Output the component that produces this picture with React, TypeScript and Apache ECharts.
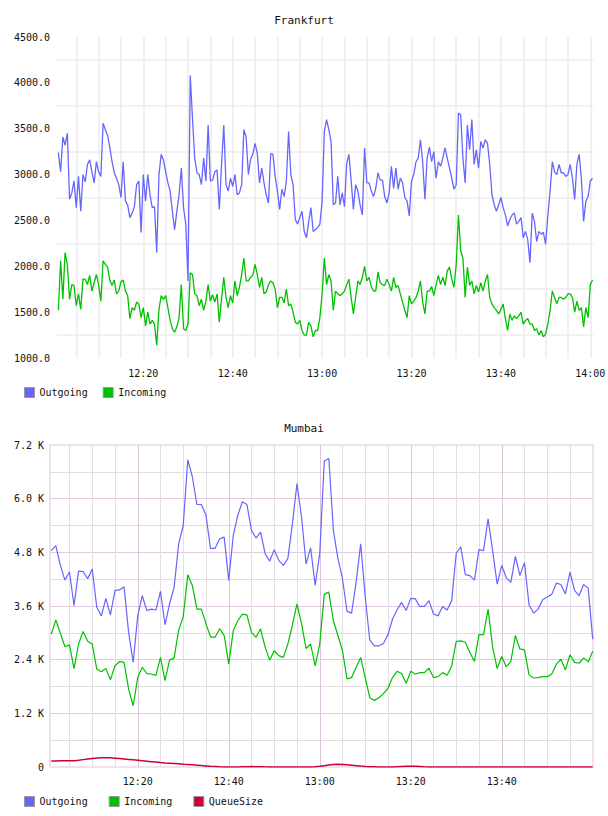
import { useEffect, useRef } from 'react';
import * as echarts from 'echarts';

const FONT = '"DejaVu Sans Mono", monospace';
const BLUE = '#6666ff';
const GREEN = '#00c000';
const RED = '#cc0033';
const TEXT = '#111111';

// Frankfurt: one sample every 30 s, first one at 12:01:00 (minutes after 12:00)
const frankfurtStartMin = 1;
const frankfurtStepMin = 0.5;

const frankfurtOutgoing = [
  3240, 3030, 3410, 3320, 3450, 2730, 2800, 2930, 2640, 2980,
  2600, 3000, 2920, 3110, 3160, 3030, 2910, 3140, 3030, 2980,
  3560, 3490, 3430, 3300, 3140, 3020, 2960, 2890, 2750, 3140,
  2710, 2670, 2530, 2580, 2650, 2890, 2930, 2370, 3000, 2710,
  3000, 2780, 2640, 2650, 2150, 3000, 3220, 3160, 3030, 2910,
  2820, 2600, 2400, 2600, 2780, 3070, 2640, 2460, 1840, 4080,
  3610, 3180, 3020, 3000, 2890, 3180, 2930, 3540, 2930, 2940,
  3030, 3050, 2620, 3110, 3540, 2890, 2820, 2960, 2870, 3000,
  2780, 2800, 2890, 3490, 3410, 3000, 3170, 3220, 3340, 3230,
  2910, 3070, 2910, 2780, 2690, 3230, 3220, 2980, 2820, 2620,
  2840, 2760, 2930, 3470, 3000, 2890, 2510, 2460, 2530, 2600,
  2380, 2310, 2490, 2640, 2380, 2400, 2420, 2460, 2710, 3470,
  3600, 3490, 3360, 2670, 2690, 2980, 2670, 2800, 2650, 3120,
  3220, 2930, 2620, 2890, 2820, 2670, 2560, 3290, 2910, 2910,
  2820, 2760, 2850, 3020, 2940, 2940, 2760, 2690, 2800, 3090,
  2850, 3070, 2840, 2960, 2910, 2750, 2710, 2550, 2930, 3000,
  3140, 3180, 3380, 3140, 2730, 3180, 3300, 3140, 3250, 2960,
  3140, 3090, 3180, 3290, 3180, 3070, 2960, 2840, 2890, 3670,
  3650, 3180, 2910, 3540, 3270, 3600, 3110, 3270, 3070, 3360,
  3290, 3380, 3340, 3110, 2780, 2670, 2600, 2670, 2750, 2640,
  2560, 2440, 2510, 2560, 2580, 2460, 2490, 2530, 2310, 2380,
  2290, 2040, 2580, 2490, 2270, 2380, 2350, 2370, 2240, 2550,
  2820, 3140, 3030, 3000, 3110, 3020, 3020, 2980, 3000, 3110,
  2960, 2730, 3110, 3220, 2960, 2490, 2710, 2760, 2930, 2960,
];

const frankfurtIncoming = [
  1520, 2060, 1640, 2150, 2020, 1640, 1800, 1790, 1570, 1700,
  1530, 1860, 1860, 1800, 1900, 1730, 1820, 1910, 1800, 1620,
  2060, 2020, 1990, 1850, 1790, 1850, 1700, 1730, 1830, 1850,
  1730, 1680, 1430, 1550, 1520, 1610, 1590, 1440, 1550, 1350,
  1500, 1370, 1410, 1370, 1140, 1530, 1680, 1640, 1680, 1550,
  1410, 1320, 1280, 1340, 1440, 1800, 1320, 1300, 1370, 1930,
  1910, 1700, 1680, 1570, 1640, 1520, 1620, 1800, 1620, 1690,
  1610, 1700, 1390, 1640, 1880, 1660, 1550, 1680, 1600, 1840,
  1680, 1770, 1910, 2090, 1840, 1840, 1880, 1900, 2020, 1910,
  1770, 1880, 1700, 1720, 1800, 1840, 1820, 1750, 1550, 1660,
  1660, 1600, 1750, 1570, 1590, 1500, 1390, 1370, 1410, 1300,
  1250, 1250, 1390, 1350, 1230, 1300, 1300, 1440, 1700, 2090,
  1800, 1910, 1840, 1520, 1730, 1700, 1680, 1700, 1730, 1800,
  1860, 1660, 1480, 1660, 1840, 1800, 1880, 2000, 1840, 1880,
  1780, 1730, 1730, 1940, 1820, 1800, 1790, 1860, 1800, 1730,
  1880, 1770, 1790, 1700, 1610, 1520, 1440, 1680, 1590, 1620,
  1660, 1730, 1840, 1610, 1480, 1730, 1730, 1780, 1680, 1800,
  1900, 1800, 1880, 1790, 1950, 1990, 1860, 1770, 2020, 2560,
  2170, 2090, 1660, 1990, 1790, 1840, 1700, 1790, 1720, 1820,
  1730, 1840, 1910, 1660, 1590, 1550, 1520, 1480, 1530, 1590,
  1430, 1300, 1480, 1410, 1460, 1430, 1460, 1500, 1370, 1410,
  1430, 1370, 1370, 1300, 1320, 1250, 1300, 1230, 1260, 1370,
  1520, 1730, 1660, 1590, 1660, 1660, 1640, 1660, 1700, 1700,
  1660, 1500, 1620, 1520, 1550, 1340, 1550, 1440, 1800, 1850,
];

// Mumbai: one sample per minute, 12:01 .. 14:00
const mumbaiStartMin = 1;
const mumbaiStepMin = 1;

const mumbaiOutgoing = [
  4840, 4950, 4510, 4180, 4360, 3610, 4380, 4370, 4210, 4430,
  3570, 3380, 3770, 3400, 3950, 3960, 4030, 3010, 2340, 3380,
  3830, 3500, 3530, 3510, 3930, 3180, 3650, 4020, 4990, 5400,
  6870, 6490, 5870, 5870, 5630, 4890, 4890, 5100, 5140, 4170,
  5180, 5630, 5930, 5870, 5290, 5120, 5250, 4770, 4600, 4860,
  4620, 4510, 4660, 5440, 6340, 5590, 4540, 4900, 4060, 4770,
  6840, 6900, 5290, 4660, 4210, 3480, 3440, 4130, 4990, 3800,
  2840, 2710, 2710, 2760, 2960, 3310, 3510, 3680, 3500, 3770,
  3760, 3590, 3590, 3720, 3420, 3380, 3590, 3510, 3720, 4780,
  4920, 4300, 4280, 4180, 4860, 4840, 5550, 4840, 4090, 4510,
  4230, 4130, 4710, 4280, 4570, 3630, 3440, 3530, 3740, 3800,
  3860, 4110, 4080, 3870, 4360, 3950, 3830, 4080, 4000, 2860,
];

const mumbaiIncoming = [
  2970, 3290, 2990, 2690, 2730, 2200, 2750, 3030, 2810, 2750,
  2190, 2130, 2200, 1950, 2260, 2360, 2340, 1740, 1370, 2000,
  2230, 2090, 2080, 2050, 2450, 1930, 2390, 2440, 3060, 3360,
  4300, 4060, 3530, 3530, 3200, 2910, 2900, 3090, 2940, 2300,
  3050, 3270, 3420, 3400, 3010, 2900, 3090, 2680, 2390, 2600,
  2490, 2450, 2750, 3180, 3650, 3200, 2650, 2750, 2260, 2750,
  3860, 3910, 3270, 2940, 2600, 1970, 2000, 2230, 2450, 2000,
  1550, 1490, 1550, 1640, 1760, 2000, 2140, 2090, 1870, 2140,
  2080, 2110, 2110, 2210, 2000, 2020, 2110, 2050, 2260, 2810,
  2820, 2790, 2560, 2360, 2960, 2960, 3530, 2680, 2200, 2470,
  2240, 2360, 2940, 2640, 2620, 2060, 1990, 2000, 2020, 2020,
  2080, 2300, 2410, 2170, 2510, 2340, 2320, 2440, 2350, 2590,
];

const mumbaiQueueSize = [
  135, 135, 138, 140, 140, 142, 150, 165, 180, 190,
  200, 205, 208, 205, 198, 190, 180, 170, 160, 150,
  140, 130, 120, 110, 100, 92, 85, 78, 70, 62,
  55, 48, 40, 32, 25, 18, 12, 6, 2, 0,
  0, 2, 5, 8, 10, 8, 5, 3, 2, 0,
  0, 0, 0, 0, 0, 0, 0, 0, 5, 15,
  30, 45, 55, 60, 58, 50, 40, 30, 20, 12,
  6, 3, 0, 0, 0, 0, 5, 10, 15, 18,
  15, 10, 5, 2, 0, 0, 0, 0, 0, 0,
  0, 0, 0, 0, 0, 0, 0, 0, 0, 0,
  0, 0, 0, 0, 0, 0, 0, 0, 0, 0,
  0, 0, 0, 0, 0, 0, 0, 0, 0, 0,
];

const frankfurtSeriesNames = ['Outgoing', 'Incoming'];
const mumbaiSeriesNames = ['Outgoing', 'Incoming', 'QueueSize'];

const toPoints = (values: number[], start: number, step: number) =>
  values.map((v, i) => [start + i * step, v]);

// minutes after 12:00 -> "HH:MM"
const clock = (min: number) => {
  const total = Math.round(min);
  const h = 12 + Math.floor(total / 60);
  const m = total % 60;
  return `${h}:${String(m).padStart(2, '0')}`;
};

const labelText = { fontFamily: FONT, fontSize: 10, color: TEXT };

function timeAxis(gridIndex: number, lastLabel: number, major: string, minor: string, width: number, margin: number) {
  return {
    gridIndex,
    type: 'value',
    min: 0,
    max: 120,
    interval: 20,
    axisLine: { show: false },
    axisTick: { show: false },
    axisLabel: {
      ...labelText,
      margin,
      showMinLabel: true,
      showMaxLabel: true,
      formatter: (v: number) => (v > 0 && v <= lastLabel ? clock(v) : ''),
    },
    splitLine: { show: true, showMinLine: false, showMaxLine: lastLabel >= 120, lineStyle: { color: major, width } },
    minorTick: { show: false, splitNumber: 4 },
    minorSplitLine: { show: true, lineStyle: { color: minor, width } },
  };
}

export default function App() {
  const ref = useRef<HTMLDivElement>(null);

  useEffect(() => {
    if (!ref.current) return;
    const chart = echarts.init(ref.current, undefined, { renderer: 'svg' });

    const lineSeries = (name: string, data: number[][], axis: number, color: string, width: number) => ({
      type: 'line',
      name,
      xAxisIndex: axis,
      yAxisIndex: axis,
      data,
      symbol: 'none',
      showSymbol: false,
      lineStyle: { color, width },
      itemStyle: { color },
      emphasis: { disabled: true },
    });

    const legendBase = {
      left: 24,
      padding: 0,
      orient: 'horizontal',
      icon: 'rect',
      itemWidth: 10,
      itemHeight: 10,
      selectedMode: false,
      itemStyle: { borderColor: '#999999', borderWidth: 1 },
      textStyle: { ...labelText },
    };

    const titleText = { fontFamily: FONT, fontSize: 11, fontWeight: 'normal', color: TEXT };

    chart.setOption({
      animation: false,
      backgroundColor: '#ffffff',
      title: [
        { text: 'Frankfurt', left: 'center', top: 15, padding: 0, textStyle: titleText },
        { text: 'Mumbai', left: 'center', top: 423, padding: 0, textStyle: titleText },
      ],
      legend: [
        { ...legendBase, data: frankfurtSeriesNames, top: 387, itemGap: 15 },
        { ...legendBase, data: mumbaiSeriesNames, top: 796, itemGap: 21 },
      ],
      grid: [
        { left: 57, right: 14.7, top: 37, height: 321, outerBoundsMode: 'none' },
        { left: 53.9, right: 17.7, top: 37, height: 321, outerBoundsMode: 'none' },
        {
          left: 50, right: 15, top: 445, height: 322, outerBoundsMode: 'none',
          show: true, borderColor: '#eee2ee', borderWidth: 2, backgroundColor: 'transparent',
        },
        { left: 46.75, right: 15.25, top: 445, height: 322, outerBoundsMode: 'none' },
      ],
      xAxis: [
        { gridIndex: 0, type: 'value', min: 0.69, max: 120.67, show: false },
        timeAxis(1, 120, '#ebebeb', '#ebebeb', 1.5, 10),
        { gridIndex: 2, type: 'value', min: 0.72, max: 120.06, show: false },
        timeAxis(3, 100, '#dcc4dc', '#e2e0e2', 1, 9),
      ],
      yAxis: [
        {
          gridIndex: 0,
          type: 'value',
          min: 1000,
          max: 4500,
          interval: 500,
          axisLine: { show: false },
          axisTick: { show: false },
          axisLabel: { ...labelText, margin: 7, formatter: (v: number) => v.toFixed(1) },
          splitLine: { show: false },
          minorTick: { show: false, splitNumber: 2 },
          minorSplitLine: { show: true, lineStyle: { color: '#f1f1f1', width: 2 } },
        },
        { gridIndex: 1, type: 'value', min: 1000, max: 4500, show: false },
        {
          gridIndex: 2,
          type: 'value',
          min: 0,
          max: 7200,
          interval: 1200,
          axisLine: { show: false },
          axisTick: { show: false },
          axisLabel: {
            ...labelText,
            margin: 6,
            formatter: (v: number) => (v === 0 ? '0' : `${(v / 1000).toFixed(1)} K`),
          },
          splitLine: { show: true, showMinLine: false, showMaxLine: false, lineStyle: { color: '#e2cae2', width: 1 } },
          minorTick: { show: false, splitNumber: 2 },
          minorSplitLine: { show: true, lineStyle: { color: '#dedede', width: 1 } },
        },
        { gridIndex: 3, type: 'value', min: 0, max: 7200, show: false },
      ],
      series: [
        lineSeries('Outgoing', toPoints(frankfurtOutgoing, frankfurtStartMin, frankfurtStepMin), 0, BLUE, 1.3),
        lineSeries('Incoming', toPoints(frankfurtIncoming, frankfurtStartMin, frankfurtStepMin), 0, GREEN, 1.3),
        lineSeries('Outgoing', toPoints(mumbaiOutgoing, mumbaiStartMin, mumbaiStepMin), 2, BLUE, 1.2),
        lineSeries('Incoming', toPoints(mumbaiIncoming, mumbaiStartMin, mumbaiStepMin), 2, GREEN, 1.2),
        lineSeries('QueueSize', toPoints(mumbaiQueueSize, mumbaiStartMin, mumbaiStepMin), 2, RED, 1.5),
      ],
    });

    return () => chart.dispose();
  }, []);

  return (
    <div
      ref={ref}
      style={{ position: 'fixed', left: 0, top: 0, width: 608, height: 816, background: '#ffffff' }}
    />
  );
}
